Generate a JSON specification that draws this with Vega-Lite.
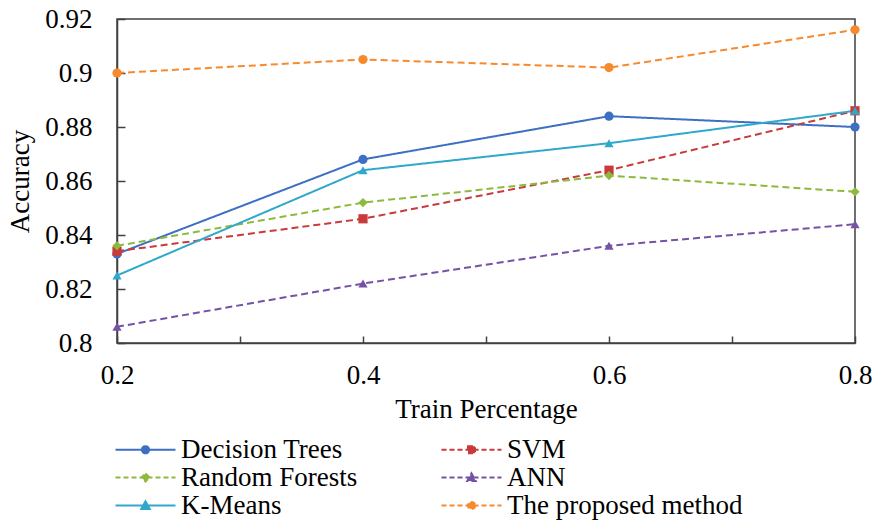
{
  "$schema": "https://vega.github.io/schema/vega-lite/v6.json",
  "width": 738,
  "height": 324,
  "autosize": {"type": "none"},
  "padding": {"left": 117, "top": 19, "right": 25, "bottom": 178},
  "background": "white",
  "config": {
    "font": "Liberation Serif, serif",
    "view": {"stroke": "#404040", "strokeWidth": 1.5},
    "axis": {
      "grid": false,
      "domainColor": "#404040",
      "domainWidth": 1.5,
      "tickColor": "#404040",
      "tickWidth": 1.5,
      "labelColor": "black",
      "titleColor": "black",
      "labelFontSize": 27,
      "titleFontSize": 27,
      "titleFontWeight": "normal",
      "labelFont": "Liberation Serif, serif",
      "titleFont": "Liberation Serif, serif"
    },
    "legend": {"labelFont": "Liberation Serif, serif"}
  },
  "data": {
    "values": [
      {"method": "Decision Trees", "train": 0.2, "acc": 0.833},
      {"method": "Decision Trees", "train": 0.4, "acc": 0.868},
      {"method": "Decision Trees", "train": 0.6, "acc": 0.884},
      {"method": "Decision Trees", "train": 0.8, "acc": 0.880},
      {"method": "SVM", "train": 0.2, "acc": 0.834},
      {"method": "SVM", "train": 0.4, "acc": 0.846},
      {"method": "SVM", "train": 0.6, "acc": 0.864},
      {"method": "SVM", "train": 0.8, "acc": 0.886},
      {"method": "Random Forests", "train": 0.2, "acc": 0.836},
      {"method": "Random Forests", "train": 0.4, "acc": 0.852},
      {"method": "Random Forests", "train": 0.6, "acc": 0.862},
      {"method": "Random Forests", "train": 0.8, "acc": 0.856},
      {"method": "ANN", "train": 0.2, "acc": 0.806},
      {"method": "ANN", "train": 0.4, "acc": 0.822},
      {"method": "ANN", "train": 0.6, "acc": 0.836},
      {"method": "ANN", "train": 0.8, "acc": 0.844},
      {"method": "K-Means", "train": 0.2, "acc": 0.825},
      {"method": "K-Means", "train": 0.4, "acc": 0.864},
      {"method": "K-Means", "train": 0.6, "acc": 0.874},
      {"method": "K-Means", "train": 0.8, "acc": 0.886},
      {"method": "The proposed method", "train": 0.2, "acc": 0.900},
      {"method": "The proposed method", "train": 0.4, "acc": 0.905},
      {"method": "The proposed method", "train": 0.6, "acc": 0.902},
      {"method": "The proposed method", "train": 0.8, "acc": 0.916}
    ]
  },
  "encoding": {
    "x": {
      "field": "train",
      "type": "quantitative",
      "scale": {"domain": [0.2, 0.8], "nice": false, "zero": false},
      "axis": {
        "title": "Train Percentage",
        "values": [0.2, 0.3, 0.4, 0.5, 0.6, 0.7, 0.8],
        "labelExpr": "round(datum.value * 10) % 2 == 0 ? format(datum.value, '.1f') : ''",
        "tickSize": -7,
        "labelPadding": 26,
        "titlePadding": 8,
        "labelFlush": false
      }
    },
    "y": {
      "field": "acc",
      "type": "quantitative",
      "scale": {"domain": [0.8, 0.92], "nice": false, "zero": false},
      "axis": {
        "title": "Accuracy",
        "values": [0.8, 0.82, 0.84, 0.86, 0.88, 0.9, 0.92],
        "format": ".2~f",
        "tickSize": -8,
        "labelPadding": 33,
        "titlePadding": 10,
        "labelFlush": false
      }
    },
    "color": {
      "field": "method",
      "type": "nominal",
      "sort": ["Decision Trees", "Random Forests", "K-Means", "SVM", "ANN", "The proposed method"],
      "scale": {
        "domain": ["Decision Trees", "Random Forests", "K-Means", "SVM", "ANN", "The proposed method"],
        "range": ["#3D6FC2", "#8DBA3E", "#30A8CB", "#C93A3A", "#7452A6", "#F88A2E"]
      },
      "legend": {
        "orient": "none",
        "legendX": 15,
        "legendY": 417,
        "columns": 2,
        "columnPadding": 79,
        "rowPadding": 0,
        "padding": 0,
        "title": null,
        "labelFontSize": 27,
        "labelFont": "Liberation Serif, serif",
        "labelColor": "black",
        "labelLimit": 500,
        "labelOffset": 22,
        "symbolSize": 400,
        "symbolStrokeWidth": 2,
        "encode": {
          "symbols": {
            "update": {
              "shape": {"signal": "datum.value == 'SVM' ? 'M-3,0H3M-0.35,-0.35H0.35V0.35H-0.35Z' : datum.value == 'Random Forests' ? 'M-3,0H3M0,-0.4L0.4,0L0,0.4L-0.4,0Z' : (datum.value == 'ANN' || datum.value == 'K-Means') ? 'M-3,0H3M0,-0.42L0.42,0.34L-0.42,0.34Z' : 'M-3,0H3M0.36,0A0.36,0.36 0 1,1 -0.36,0A0.36,0.36 0 1,1 0.36,0Z'"},
              "fill": {"signal": "scale('color', datum.value)"},
              "stroke": {"signal": "scale('color', datum.value)"},
              "strokeDash": {"signal": "(datum.value == 'Decision Trees' || datum.value == 'K-Means') ? [1, 0] : [5, 3]"},
              "strokeWidth": {"value": 2},
              "opacity": {"value": 1}
            }
          }
        }
      }
    }
  },
  "layer": [
    {
      "mark": {"type": "line", "strokeWidth": 2},
      "encoding": {
        "strokeDash": {
          "field": "method",
          "type": "nominal",
          "scale": {
            "range": [[7, 4], [1, 0], [1, 0], [7, 4], [7, 4], [7, 4]]
          },
          "legend": null
        }
      }
    },
    {
      "mark": {"type": "point", "filled": true, "opacity": 1, "size": 85},
      "encoding": {
        "shape": {
          "field": "method",
          "type": "nominal",
          "scale": {
            "range": ["triangle-up", "circle", "triangle-up", "diamond", "square", "circle"]
          },
          "legend": null
        }
      }
    }
  ]
}
